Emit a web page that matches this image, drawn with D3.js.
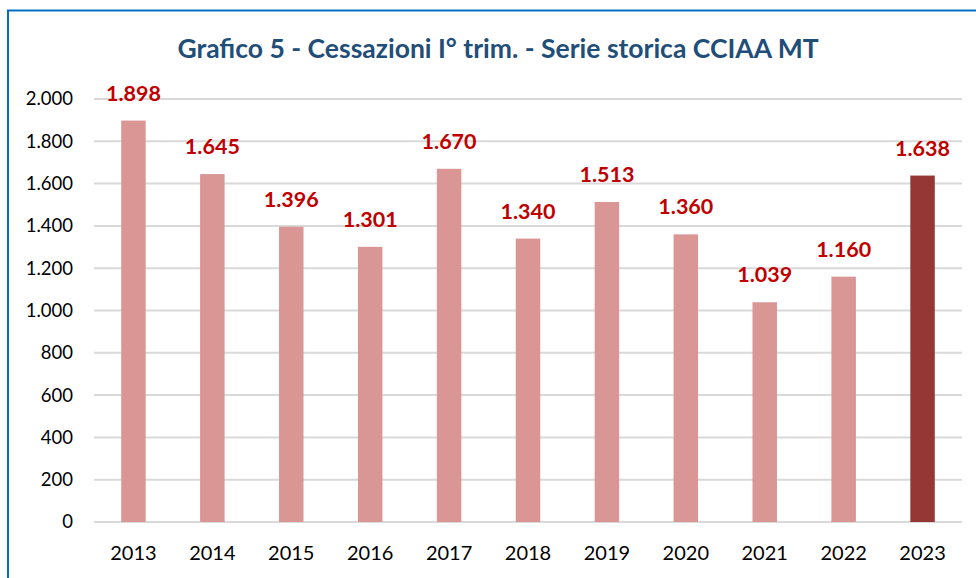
<!DOCTYPE html>
<html>
<head>
<meta charset="utf-8">
<script src="https://cdn.jsdelivr.net/npm/d3@7"></script>
<style>
  body { margin: 0; background: #fff; }
  svg { display: block; font-family: Lato, "Open Sans", sans-serif; }
</style>
</head>
<body>
<svg id="chart" width="976" height="578"></svg>
<script>
"use strict";

var titolo = "Grafico 5 - Cessazioni I\u00b0 trim. - Serie storica CCIAA MT";
var anni = ["2013", "2014", "2015", "2016", "2017", "2018", "2019", "2020", "2021", "2022", "2023"];
var cessazioni = [1898, 1645, 1396, 1301, 1670, 1340, 1513, 1360, 1039, 1160, 1638];
var yTicks = [0, 200, 400, 600, 800, 1000, 1200, 1400, 1600, 1800, 2000];

var svg = d3.select("#chart");

// bordo del riquadro (tagliato a destra e in basso)
svg.append("path")
	.attr("d", "M8,590 L8,10.5 L990,10.5")
	.attr("fill", "none")
	.attr("stroke", "#0070C0")
	.attr("stroke-width", 2);

svg.append("text")
	.attr("x", 498)
	.attr("y", 58)
	.attr("text-anchor", "middle")
	.attr("font-size", 26.5)
	.attr("font-weight", "bold")
	.attr("fill", "#1F4E79")
	.text(titolo);

var x = d3.scaleBand()
	.domain(anni)
	.range([94, 962])
	.paddingInner(0.69)
	.paddingOuter(0.345);

var y = d3.scaleLinear()
	.domain([0, 2000])
	.range([522, 99]);

// griglia
svg.append("g")
	.selectAll("line")
	.data(yTicks)
	.join("line")
	.attr("x1", 94)
	.attr("x2", 962)
	.attr("y1", function (d) { return y(d); })
	.attr("y2", function (d) { return y(d); })
	.attr("stroke", "#D9D9D9")
	.attr("stroke-width", 2);

// asse y
var fmt = function (d) { return d3.format(",")(d).replace(/,/g, "."); };

var yAxis = svg.append("g")
	.attr("transform", "translate(73,0)")
	.call(d3.axisLeft(y).tickValues(yTicks).tickFormat(fmt).tickSize(0).tickPadding(0));
yAxis.select(".domain").remove();
yAxis.selectAll("text")
	.attr("font-family", "Lato, sans-serif")
	.attr("font-size", 18.5)
	.attr("fill", "#000");

// asse x
var xAxis = svg.append("g")
	.attr("transform", "translate(0,522)")
	.call(d3.axisBottom(x).tickSize(0).tickPadding(0));
xAxis.select(".domain").remove();
xAxis.selectAll("text")
	.attr("dy", null)
	.attr("y", 38)
	.attr("font-family", "Lato, sans-serif")
	.attr("font-size", 20)
	.attr("fill", "#000");

// barre
svg.append("g")
	.selectAll("rect")
	.data(cessazioni)
	.join("rect")
	.attr("x", function (d, i) { return x(anni[i]); })
	.attr("width", x.bandwidth())
	.attr("y", function (d) { return y(d); })
	.attr("height", function (d) { return y(0) - y(d); })
	.attr("fill", function (d, i) { return i === anni.length - 1 ? "#953735" : "#D99694"; });

// etichette valori
svg.append("g")
	.selectAll("text")
	.data(cessazioni)
	.join("text")
	.attr("x", function (d, i) { return x(anni[i]) + x.bandwidth() / 2; })
	.attr("y", function (d) { return y(d) - 20; })
	.attr("text-anchor", "middle")
	.attr("font-size", 21.5)
	.attr("font-weight", "bold")
	.attr("fill", "#C00000")
	.text(fmt);
</script>
</body>
</html>
